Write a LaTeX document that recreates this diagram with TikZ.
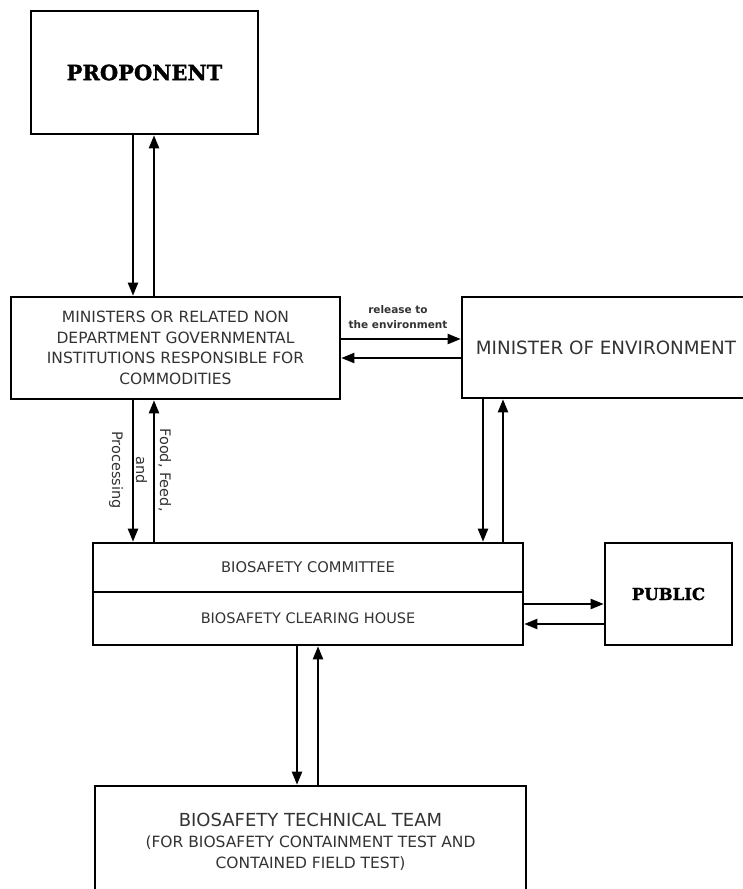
\documentclass[tikz,border=0pt]{standalone}
\usepackage{fontspec}
\setmainfont{DejaVu Sans}
\newfontfamily\slab[BoldFeatures={FakeBold=1.5}]{DejaVu Serif}
\usetikzlibrary{arrows.meta}
\definecolor{txt}{HTML}{333333}
\begin{document}
\begin{tikzpicture}[x=1pt,y=-1pt,
 box/.style={draw=black, line width=2.6pt, rectangle, inner sep=0pt, align=center, text=txt},
 arr/.style={line width=2.1pt, -{Triangle[length=13pt,width=10pt]}},
 lbl/.style={text=txt, align=center, inner sep=0pt}
 ]
\useasboundingbox (0,0) rectangle (743,889);
\node[box, minimum width=227, minimum height=123, text=black,
      font=\slab\bfseries\fontsize{21}{25}\selectfont] (prop) at (144.5,72.5) {PROPONENT};
\node[box, minimum width=329, minimum height=102,
      font=\fontsize{15.5}{20.5}\selectfont] (min) at (175.5,348)
      {MINISTERS OR RELATED NON\\DEPARTMENT GOVERNMENTAL\\INSTITUTIONS RESPONSIBLE FOR\\COMMODITIES};
\node[box, minimum width=288, minimum height=101,
      font=\fontsize{18.3}{22}\selectfont] (moe) at (606,347.5) {MINISTER OF ENVIRONMENT};
\node[box, minimum width=430, minimum height=49,
      font=\fontsize{14.7}{18}\selectfont] (bc1) at (308,567.5) {BIOSAFETY COMMITTEE};
\node[box, minimum width=430, minimum height=53,
      font=\fontsize{14.5}{18}\selectfont] (bc2) at (308,618.5) {BIOSAFETY CLEARING HOUSE};
\node[box, minimum width=127, minimum height=102, text=black,
      font=\slab\bfseries\fontsize{16.5}{20}\selectfont] (pub) at (668.5,594) {PUBLIC};
\node[box, minimum width=431, minimum height=112,
      font=\fontsize{15.5}{21}\selectfont] (btt) at (310.5,842)
      {{\fontsize{18}{22}\selectfont BIOSAFETY TECHNICAL TEAM}\\
       (FOR BIOSAFETY CONTAINMENT TEST AND\\
       CONTAINED FIELD TEST)};

\node[lbl, font=\bfseries\fontsize{10.5}{15}\selectfont] (rel) at (398,317) {release to\\the environment};
\node[lbl, rotate=-90, font=\fontsize{14.5}{24}\selectfont] (ffp) at (140,470) {Food, Feed,\\and\\Processing};

\draw[arr] (133,0 |- prop.south) -- (133,0 |- min.north);
\draw[arr] (154,0 |- min.north) -- (154,0 |- prop.south);
\draw[arr] (0,339 -| min.east) -- (0,339 -| moe.west);
\draw[arr] (0,358 -| moe.west) -- (0,358 -| min.east);
\draw[arr] (133,0 |- min.south) -- (133,0 |- bc1.north);
\draw[arr] (154,0 |- bc1.north) -- (154,0 |- min.south);
\draw[arr] (483,0 |- moe.south) -- (483,0 |- bc1.north);
\draw[arr] (503,0 |- bc1.north) -- (503,0 |- moe.south);
\draw[arr] (0,604 -| bc2.east) -- (0,604 -| pub.west);
\draw[arr] (0,624 -| pub.west) -- (0,624 -| bc2.east);
\draw[arr] (297,0 |- bc2.south) -- (297,0 |- btt.north);
\draw[arr] (318,0 |- btt.north) -- (318,0 |- bc2.south);
\end{tikzpicture}
\end{document}
